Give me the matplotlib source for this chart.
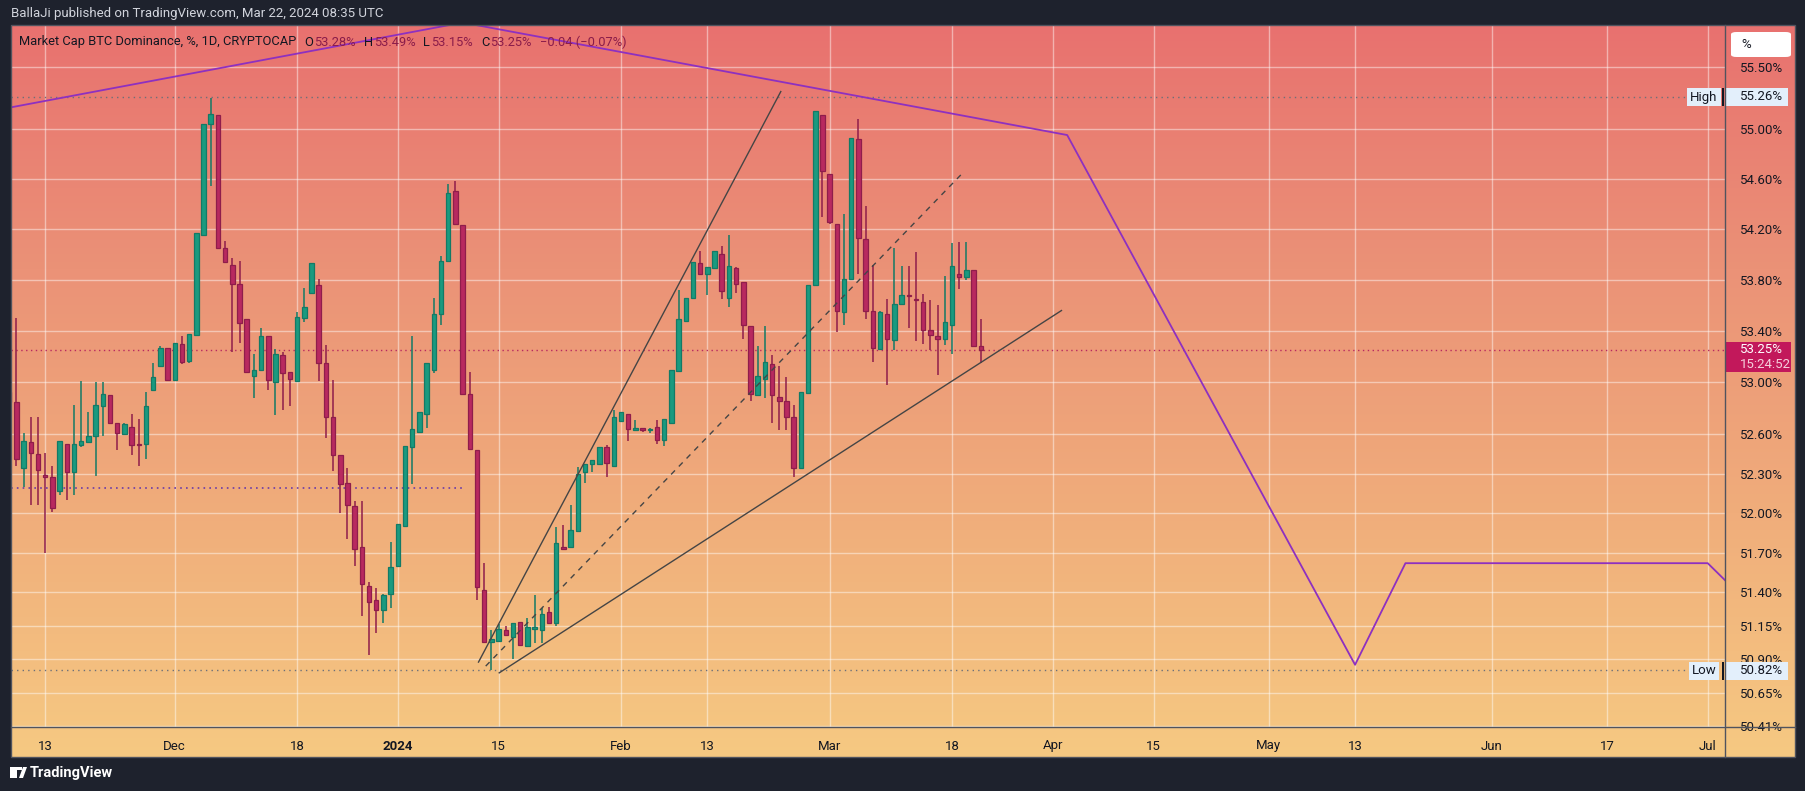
import numpy as np
import pandas as pd
import matplotlib
matplotlib.use('Agg')
import matplotlib.pyplot as plt
import matplotlib.dates as mdates
from matplotlib.colors import LinearSegmentedColormap
from matplotlib.ticker import FixedLocator, FixedFormatter, NullLocator
from matplotlib.patches import Rectangle, FancyBboxPatch, Polygon
from matplotlib.lines import Line2D

plt.rcParams['font.family'] = 'Roboto'

# ---------------- data ----------------
dates = pd.date_range('2023-11-08', '2024-03-22', freq='D')
opens = [52.93,52.85,52.34,52.54,52.45,52.29,52.27,52.17,52.53,52.31,52.52,52.54,52.59,52.82,52.90,52.69,52.60,52.66,52.53,52.53,52.94,53.13,53.27,
         53.02,53.30,53.17,53.37,54.15,55.04,55.11,54.05,53.92,53.77,53.49,53.05,53.10,53.36,53.00,53.21,53.08,53.01,53.50,53.70,53.76,53.15,52.73,52.44,52.23,52.05,51.74,51.45,51.34,51.27,51.39,
         51.60,51.90,52.50,52.62,52.76,53.10,53.53,53.95,54.50,54.23,52.91,52.48,51.42,51.03,51.04,51.12,51.07,51.18,51.00,51.13,51.12,51.25,51.17,51.74,51.74,51.86,52.31,52.37,52.37,52.50,52.36,
         52.70,52.76,52.63,52.65,52.63,52.66,52.56,52.69,53.09,53.48,53.66,53.93,53.85,53.89,54.00,53.66,53.89,53.78,53.44,52.90,53.03,53.14,52.89,52.86,52.73,52.34,52.92,53.76,55.11,
         54.64,54.24,53.55,53.81,54.92,54.12,53.56,53.26,53.53,53.33,53.61,53.68,53.65,53.63,53.41,53.36,53.34,53.45,53.85,53.82,53.88,53.28]
highs = [52.95,53.50,52.61,52.73,52.73,52.46,52.36,52.55,52.53,52.83,53.01,52.77,53.00,53.00,52.90,52.69,52.69,52.76,52.72,52.93,53.15,53.28,53.27,
         53.31,53.36,53.38,54.17,55.04,55.25,55.11,54.11,53.97,53.95,53.49,53.22,53.42,53.36,53.26,53.24,53.08,53.55,53.74,53.93,53.81,53.29,53.02,52.44,52.34,52.09,52.09,51.48,51.43,51.39,51.78,
         51.92,52.51,53.36,52.77,53.15,53.66,53.99,54.56,54.58,54.23,53.08,52.48,51.62,51.12,51.16,51.15,51.17,51.18,51.21,51.38,51.28,51.29,51.89,51.91,52.06,52.35,52.37,52.40,52.50,52.52,52.79,
         52.77,52.76,52.71,52.65,52.65,52.71,52.72,53.10,53.72,53.66,53.94,54.03,53.90,54.03,54.07,54.15,53.90,53.78,53.44,53.28,53.44,53.21,53.13,53.04,52.83,52.93,53.76,55.14,55.11,
         54.64,54.24,54.32,54.93,55.08,54.38,53.92,53.56,53.65,54.05,53.91,53.91,54.02,53.69,53.64,53.60,53.83,54.09,54.10,54.10,53.88,53.49]
lows = [52.85,52.36,52.20,52.06,52.06,51.70,52.01,52.14,52.10,52.14,52.50,52.54,52.28,52.59,52.69,52.48,52.60,52.44,52.36,52.41,52.94,53.13,53.02,
        53.02,53.14,53.15,53.37,54.15,54.54,54.05,53.94,53.24,53.31,53.08,52.88,53.10,52.94,52.75,52.79,52.82,53.01,53.47,53.70,53.01,52.57,52.32,52.00,51.80,51.60,51.22,50.93,51.10,51.17,51.28,
        51.60,51.90,52.22,52.62,52.65,53.07,53.45,53.95,54.24,52.91,52.49,51.34,51.03,50.82,51.04,51.08,50.90,51.01,51.00,51.02,51.02,51.17,51.15,51.73,51.74,51.86,52.23,52.31,52.37,52.27,52.36,
        52.70,52.55,52.63,52.62,52.61,52.53,52.51,52.69,53.09,53.48,53.66,53.85,53.68,53.89,53.65,53.59,53.70,53.34,52.86,52.90,52.88,52.69,52.63,52.63,52.27,52.34,52.92,53.76,54.30,
        54.24,53.39,53.45,53.81,53.85,53.49,53.16,53.26,52.98,53.25,53.60,53.42,53.32,53.30,53.25,53.06,53.29,53.22,53.73,53.80,53.28,53.15]
closes = [52.85,52.41,52.55,52.46,52.33,52.27,52.04,52.55,52.31,52.53,52.55,52.59,52.83,52.91,52.69,52.61,52.68,52.52,52.52,52.82,53.04,53.27,53.02,
          53.31,53.16,53.38,54.17,55.04,55.12,54.05,53.94,53.77,53.46,53.08,53.10,53.36,53.02,53.22,53.07,53.03,53.51,53.59,53.93,53.15,52.73,52.44,52.22,52.06,51.73,51.46,51.33,51.27,51.38,51.59,
          51.92,52.51,52.64,52.77,53.15,53.53,53.95,54.49,54.24,52.91,52.49,51.44,51.03,51.05,51.13,51.08,51.17,51.01,51.14,51.14,51.24,51.17,51.77,51.73,51.87,52.30,52.37,52.40,52.50,52.38,52.73,
          52.77,52.64,52.65,52.63,52.64,52.56,52.72,53.10,53.49,53.66,53.94,53.85,53.90,54.03,53.71,53.91,53.77,53.45,52.91,53.05,53.16,52.90,52.86,52.73,52.34,52.93,53.76,55.14,54.66,
          54.26,53.56,53.81,54.93,54.13,53.56,53.27,53.55,53.34,53.61,53.68,53.67,53.64,53.41,53.37,53.34,53.47,53.91,53.82,53.88,53.28,53.25]

proj_dates = ['2023-11-08', '2024-01-10', '2024-04-03', '2024-05-13', '2024-05-20', '2024-07-01', '2024-07-04']
proj_values = [55.17, 55.86, 54.95, 50.86, 51.62, 51.62, 51.46]

trend_upper_dates = ['2024-01-12 05:00', '2024-02-23 05:00']
trend_upper_values = [50.88, 55.30]
trend_lower_dates = ['2024-01-15 02:00', '2024-04-02 05:00']
trend_lower_values = [50.80, 53.56]
trend_mid_dates = ['2024-01-13 05:00', '2024-03-19 17:00']
trend_mid_values = [50.85, 54.66]

support_level = 52.19
support_end = '2024-01-10'
high_value, low_value, last_value = 55.26, 50.82, 53.25

ytick_values = [55.50, 55.00, 54.60, 54.20, 53.80, 53.40, 53.00, 52.60, 52.30, 52.00,
                51.70, 51.40, 51.15, 50.90, 50.65, 50.41]
xtick_dates = ['2023-11-13', '2023-12-01', '2023-12-18', '2024-01-01', '2024-01-15', '2024-02-01',
               '2024-02-13', '2024-03-01', '2024-03-18', '2024-04-01', '2024-04-15', '2024-05-01',
               '2024-05-13', '2024-06-01', '2024-06-17', '2024-07-01']
xtick_labels = ['13', 'Dec', '18', '2024', '15', 'Feb', '13', 'Mar', '18', 'Apr', '15', 'May',
                '13', 'Jun', '17', 'Jul']

# ---------------- figure ----------------
W, H = 1805, 791
fig = plt.figure(figsize=(W / 100, H / 100), dpi=100, facecolor='#1e222d')
def fx(px): return px / W
def fy(py): return 1 - py / H

L, R, T, B = 11, 1725, 25, 727
AXR, AXB = 1795, 757

bg = fig.add_axes([fx(L), fy(AXB), fx(AXR - L), (AXB - T) / H])
grad = np.linspace(0, 1, 256)[:, None]
cmap = LinearSegmentedColormap.from_list('g', ['#e8716f', '#eb9277', '#f0ad7b', '#f6c982'])
bg.imshow(grad, aspect='auto', cmap=cmap, extent=[0, 1, 0, 1], origin='upper')
bg.set_axis_off()

ax = fig.add_axes([fx(L), fy(B), fx(R - L), (B - T) / H])
ax.patch.set_alpha(0)
ax.set_yscale('log')
ax.set_ylim(50.40, 55.84)
t0 = mdates.date2num(pd.Timestamp('2023-11-13'))
ax.set_xlim(t0 - 4.75, t0 + 233.4)
for s in ax.spines.values():
    s.set_visible(False)

ax.yaxis.set_major_locator(FixedLocator(ytick_values))
ax.yaxis.set_major_formatter(FixedFormatter([f'{v:.2f}%' for v in ytick_values]))
ax.yaxis.set_minor_locator(NullLocator())
ax.yaxis.tick_right()
ax.tick_params(axis='y', length=0, pad=11, labelsize=9.5, labelcolor='#131722')

xt = [mdates.date2num(pd.Timestamp(d)) for d in xtick_dates]
ax.xaxis.set_major_locator(FixedLocator(xt))
ax.xaxis.set_major_formatter(FixedFormatter(xtick_labels))
ax.xaxis.set_minor_locator(NullLocator())
ax.tick_params(axis='x', length=0, pad=9, labelsize=9.5, labelcolor='#131722')
for lab in ax.get_xticklabels():
    if lab.get_text() == '2024':
        lab.set_fontweight('bold')
ax.grid(True, color='white', alpha=0.45, lw=1, zorder=0)
ax.set_axisbelow(True)

# candles
x = mdates.date2num(dates)
o, h, l, c = map(np.array, (opens, highs, lows, closes))
up = c >= o
up_face, up_edge = '#1a9a7f', '#137a66'
dn_face, dn_edge = '#b8295f', '#8f1d4b'
ax.vlines(x, l, h, colors=np.where(up, up_edge, dn_edge), lw=1.1, zorder=3)
body_lo = np.minimum(o, c)
body_h = np.maximum(np.abs(c - o), 0.004)
ax.bar(x, body_h, bottom=body_lo, width=0.62, color=np.where(up, up_face, dn_face),
       edgecolor=np.where(up, up_edge, dn_edge), lw=0.9, zorder=4)

# horizontal reference lines
ax.axhline(last_value, color='#b8295f', ls=(0, (1, 2.5)), lw=1, zorder=2)
ax.axhline(high_value, color='#6d6f78', ls=(0, (1, 3)), lw=1, zorder=2)
ax.axhline(low_value, color='#6d6f78', ls=(0, (1, 3)), lw=1, zorder=2)
ax.hlines(support_level, t0 - 4.75, mdates.date2num(pd.Timestamp(support_end)),
          color='#6a3aa8', ls=(0, (1, 2.5)), lw=1.2, zorder=2)

# projection and trend lines
ax.plot([mdates.date2num(pd.Timestamp(d)) for d in proj_dates], proj_values,
        color='#8e30c0', lw=1.3, zorder=5)
def tl(ds, vs, **kw):
    ax.plot([mdates.date2num(pd.Timestamp(d)) for d in ds], vs, **kw)
tl(trend_upper_dates, trend_upper_values, color='#454545', lw=1.0, zorder=5)
tl(trend_lower_dates, trend_lower_values, color='#454545', lw=1.0, zorder=5)
tl(trend_mid_dates, trend_mid_values, color='#454545', lw=1.0, ls=(0, (4, 4)), zorder=5)

# frame separators
sep = '#50535e'
fig.add_artist(Line2D([fx(R), fx(R)], [fy(T), fy(AXB)], color=sep, lw=1))
fig.add_artist(Line2D([fx(L), fx(AXR)], [fy(B), fy(B)], color=sep, lw=1))
fig.add_artist(Rectangle((fx(L), fy(AXB)), fx(AXR - L), (AXB - T) / H, fill=False, ec=sep, lw=1,
                         transform=fig.transFigure))

# price axis labels
fig.add_artist(FancyBboxPatch((fx(1731), fy(57)), fx(60), 25 / H,
                              boxstyle='round,pad=0,rounding_size=0.003', fc='white', ec='none',
                              transform=fig.transFigure))
fig.text(fx(1741), fy(44), '%', fontsize=9.5, color='#131722', va='center')

def tag(ytxt, left_label, value_txt):
    fig.text(fx(1704), fy(ytxt), left_label, fontsize=9.5, color='#131722', ha='center', va='center',
             bbox=dict(boxstyle='square,pad=0.22', fc='#e3effb', ec='none'))
    fig.add_artist(Rectangle((fx(1722), fy(ytxt + 9)), fx(2), 18 / H, fc='#131722', ec='none',
                             transform=fig.transFigure))
    fig.add_artist(Rectangle((fx(1725), fy(ytxt + 9)), fx(63), 18 / H, fc='#e3effb', ec='none',
                             transform=fig.transFigure))
    fig.text(fx(1740), fy(ytxt), value_txt, fontsize=9.5, color='#131722', va='center')
tag(97, 'High', f'{high_value:.2f}%')
tag(671, 'Low', f'{low_value:.2f}%')

fig.add_artist(Rectangle((fx(1725), fy(372)), fx(66), 30 / H, fc='#c2185b', ec='none',
                         transform=fig.transFigure))
fig.text(fx(1740), fy(349), f'{last_value:.2f}%', fontsize=9.5, color='white', va='center')
fig.text(fx(1740), fy(364), '15:24:52', fontsize=9.5, color='#f5d0dc', va='center')

# header / legend
fig.text(fx(11), fy(14), 'BallaJi published on TradingView.com, Mar 22, 2024 08:35 UTC',
         color='#d1d4dc', fontsize=9.5, va='center')
val_col = '#8a1c4a'
leg = [('Market Cap BTC Dominance, %, 1D, CRYPTOCAP', '#131722', 8),
       ('O', '#131722', 1), ('53.28%', val_col, 8),
       ('H', '#131722', 1), ('53.49%', val_col, 8),
       ('L', '#131722', 1), ('53.15%', val_col, 8),
       ('C', '#131722', 1), ('53.25%', val_col, 8),
       ('\u22120.04 (\u22120.07%)', val_col, 0)]
renderer = fig.canvas.get_renderer()
cur = 19
for s, col, gap in leg:
    t = fig.text(fx(cur), fy(42), s, color=col, fontsize=9.3, va='center')
    bb = t.get_window_extent(renderer)
    cur += bb.width + gap

# footer logo
fig.add_artist(Rectangle((fx(10), fy(778)), fx(7), 10 / H, fc='white', ec='none',
                         transform=fig.transFigure))
fig.add_artist(Rectangle((fx(10), fy(770)), fx(12), 3 / H, fc='white', ec='none',
                         transform=fig.transFigure))
fig.add_artist(Polygon([[fx(19), fy(778)], [fx(23), fy(767)], [fx(27), fy(767)], [fx(23), fy(778)]],
                       closed=True, fc='white', ec='none', transform=fig.transFigure))
fig.text(fx(30), fy(773), 'TradingView', color='white', fontsize=10.5, fontweight='bold', va='center')

fig.savefig('out.png', dpi=100, facecolor=fig.get_facecolor())
